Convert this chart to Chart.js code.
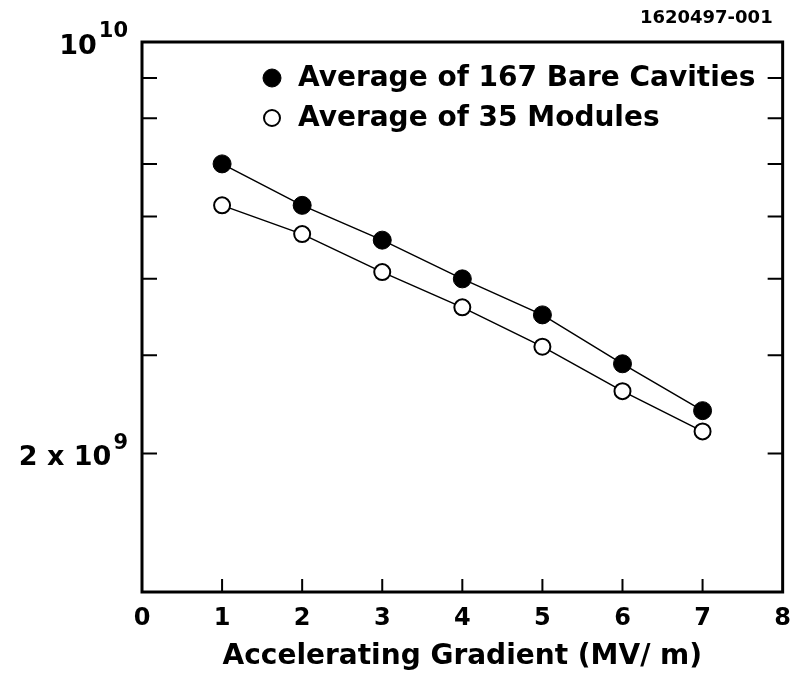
<!DOCTYPE html>
<html lang="en">
<head>
  <meta charset="UTF-8">
  <title>Q0 vs Accelerating Gradient</title>
  <script src="https://cdn.jsdelivr.net/npm/chart.js"></script>
  <style>
    html, body {
      margin: 0;
      padding: 0;
      background: #fff;
    }
    #wrap {
      width: 803px;
      height: 674px;
    }
  </style>
</head>
<body>
  <div id="wrap"><canvas id="q0Chart"></canvas></div>

  <script>
    // Accelerating gradient (MV/m)
    const gradient = [1, 2, 3, 4, 5, 6, 7];
    // Q0
    const bareCavities = [7.0e9, 6.2e9, 5.6e9, 5.0e9, 4.5e9, 3.9e9, 3.4e9];
    const modules = [6.2e9, 5.7e9, 5.1e9, 4.6e9, 4.1e9, 3.6e9, 3.2e9];
    const seriesNames = ["Average of 167 Bare Cavities", "Average of 35 Modules"];

    // y tick marks and the two labelled ones (as printed on the figure)
    const yTicks = [2e9, 3e9, 4e9, 5e9, 6e9, 7e9, 8e9, 9e9, 1e10];
    const yLabelValues = [1e10, 3e9];
    const yLabelBases = ["10", "2 x 10"];
    const yLabelExps = ["10", "9"];
    const figureId = "1620497-001";

    const FONT = "'DejaVu Sans', sans-serif";

    // frame, inward ticks, y labels, figure id and legend
    const decorations = {
      id: "decorations",
      afterDraw(chart) {
        const { ctx, chartArea: a, scales: { x, y } } = chart;
        ctx.save();
        ctx.strokeStyle = "#000";
        ctx.lineWidth = 3;
        ctx.strokeRect(a.left, a.top, a.right - a.left, a.bottom - a.top);

        ctx.lineWidth = 2;
        ctx.beginPath();
        y.ticks.forEach(t => {
          const py = y.getPixelForValue(t.value);
          if (py <= a.top + 2 || py >= a.bottom - 2) return;
          ctx.moveTo(a.left, py);
          ctx.lineTo(a.left + 15, py);
          ctx.moveTo(a.right, py);
          ctx.lineTo(a.right - 15, py);
        });
        x.ticks.forEach(t => {
          const px = x.getPixelForValue(t.value);
          if (px <= a.left + 2 || px >= a.right - 2) return;
          ctx.moveTo(px, a.bottom);
          ctx.lineTo(px, a.bottom - 13);
        });
        ctx.stroke();

        // y labels with superscript exponent
        ctx.fillStyle = "#000";
        ctx.textBaseline = "middle";
        yLabelValues.forEach((v, i) => {
          const py = y.getPixelForValue(v);
          const right = a.left - 14;
          ctx.font = "bold 21px " + FONT;
          ctx.textAlign = "right";
          const expW = ctx.measureText(yLabelExps[i]).width;
          ctx.fillText(yLabelExps[i], right, py - 10);
          ctx.font = "bold 27px " + FONT;
          ctx.fillText(yLabelBases[i], right - expW - 2, py + 5);
        });

        // figure id above the top right corner
        ctx.font = "bold 18px " + FONT;
        ctx.textAlign = "right";
        ctx.fillText(figureId, a.right - 10, a.top - 24);

        // legend inside the plot
        const sets = chart.data.datasets;
        ctx.font = "bold 28px " + FONT;
        ctx.textAlign = "left";
        sets.forEach((ds, i) => {
          const cy = a.top + 36 + i * 40;
          const cx = a.left + 130;
          ctx.beginPath();
          ctx.arc(cx, cy, ds.pointRadius, 0, Math.PI * 2);
          ctx.fillStyle = ds.pointBackgroundColor;
          ctx.fill();
          ctx.lineWidth = ds.pointBorderWidth;
          ctx.strokeStyle = ds.pointBorderColor;
          ctx.stroke();
          ctx.fillStyle = "#000";
          ctx.fillText(ds.label, a.left + 156, cy + 1);
        });
        ctx.restore();
      }
    };

    const ctx = document.getElementById("q0Chart").getContext("2d");
    new Chart(ctx, {
      type: "line",
      data: {
        datasets: [
          {
            label: seriesNames[0],
            data: gradient.map((g, i) => ({ x: g, y: bareCavities[i] })),
            borderColor: "#000",
            borderWidth: 1.5,
            pointRadius: 9,
            pointBackgroundColor: "#000",
            pointBorderColor: "#000",
            pointBorderWidth: 1,
            fill: false
          },
          {
            label: seriesNames[1],
            data: gradient.map((g, i) => ({ x: g, y: modules[i] })),
            borderColor: "#000",
            borderWidth: 1.5,
            pointRadius: 8,
            pointBackgroundColor: "#fff",
            pointBorderColor: "#000",
            pointBorderWidth: 2,
            fill: false
          }
        ]
      },
      options: {
        responsive: true,
        maintainAspectRatio: false,
        animation: false,
        devicePixelRatio: 1,
        layout: { padding: { left: 0, right: 16, top: 42, bottom: 0 } },
        plugins: {
          legend: { display: false },
          tooltip: { enabled: false }
        },
        scales: {
          x: {
            type: "linear",
            min: 0,
            max: 8,
            ticks: {
              stepSize: 1,
              color: "#000",
              padding: 12,
              font: { family: FONT, size: 24, weight: "bold" }
            },
            grid: { display: false, drawTicks: false },
            border: { display: false },
            title: {
              display: true,
              text: "Accelerating Gradient (MV/ m)",
              color: "#000",
              font: { family: FONT, size: 28, weight: "bold" },
              padding: { top: 0, bottom: 0 }
            },
            afterFit: s => { s.height = 82; }
          },
          y: {
            type: "logarithmic",
            min: 2e9,
            max: 1e10,
            ticks: { display: false },
            grid: { display: false, drawTicks: false },
            border: { display: false },
            afterBuildTicks: s => { s.ticks = yTicks.map(v => ({ value: v })); },
            afterFit: s => { s.width = 142; }
          }
        }
      },
      plugins: [decorations]
    });
  </script>
</body>
</html>
